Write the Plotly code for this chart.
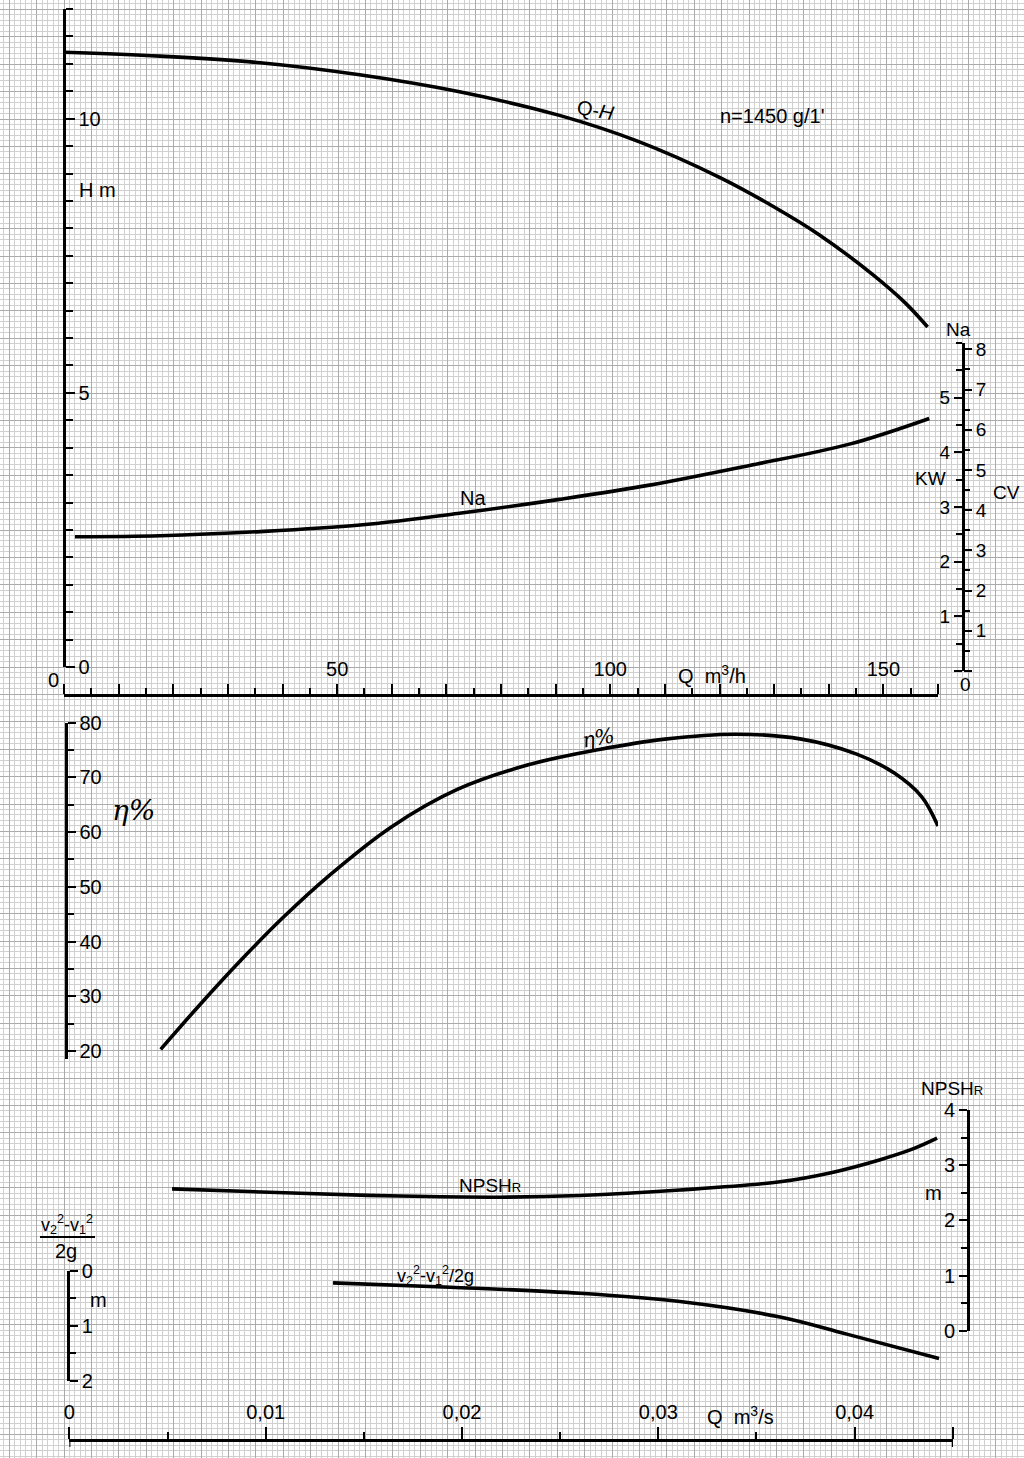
import plotly.graph_objects as go

W, H = 1024, 1458

# ---------------- data ----------------
q_qh = [0, 17.6, 35.9, 54.1, 72.4, 90.7, 105, 120, 130, 138.3, 148, 154, 158.1]          # m3/h
h_qh = [11.21, 11.14, 11.02, 10.80, 10.49, 10.06, 9.59, 8.93, 8.39, 7.88, 7.16, 6.64, 6.20]  # m

q_na = [2.0, 17.6, 35.9, 54.2, 72.4, 90.7, 107.2, 125.5, 143.8, 158.4]               # m3/h
na_kw = [2.457, 2.475, 2.55, 2.67, 2.885, 3.14, 3.40, 3.76, 4.15, 4.62]              # kW

q_eta = [17.7, 25, 32.2, 40, 48.7, 60, 72, 85, 98, 110, 123, 135, 145, 152, 157, 160]
eta = [20.3, 28.6, 36.4, 44.3, 52.2, 61.0, 67.8, 72.3, 75.1, 77.0, 77.9, 77.0, 74.3, 70.8, 66.5, 61.1]

q_npsh = [0.00523, 0.01175, 0.01684, 0.0219, 0.0260, 0.0311, 0.0362, 0.03874, 0.0413, 0.0430, 0.0442]  # m3/s
npsh = [2.57, 2.49, 2.44, 2.42, 2.45, 2.55, 2.70, 2.86, 3.10, 3.30, 3.49]

q_dv = [0.01343, 0.0194, 0.0260, 0.0311, 0.0362, 0.0396, 0.0443]
dv = [0.22, 0.30, 0.41, 0.56, 0.84, 1.15, 1.59]

KW_PER_CV = 0.7355
na_cv = [v / KW_PER_CV for v in na_kw]

qh_ticks = list(range(0, 161, 10))
qh_labels = ["50", "100", "150"]
qs_ticks = [0, 0.01, 0.02, 0.03, 0.04, 0.045]
qs_labels = ["0", "0,01", "0,02", "0,03", "0,04", ""]
h_ticks = [0, 5, 10]
eta_ticks = [20, 30, 40, 50, 60, 70, 80]
kw_ticks = [0, 1, 2, 3, 4, 5]
cv_ticks = [0, 1, 2, 3, 4, 5, 6, 7, 8]
npsh_ticks = [0, 1, 2, 3, 4]
dv_ticks = [0, 1, 2]


def px(x):
    return x / W


def py(y):
    return 1 - y / H


FONT = "Liberation Sans"
tickfont = dict(family=FONT, size=20, color="black")
AX = dict(showgrid=False, zeroline=False, showline=True, linecolor="black", linewidth=2.5,
          tickcolor="black", tickwidth=2, tickfont=tickfont, fixedrange=True, automargin=False)

fig = go.Figure()

# graph paper subplot (drawn first, underneath)
fig.add_trace(go.Scatter(x=[None], y=[None], xaxis="x", yaxis="y", showlegend=False, hoverinfo="skip"))

line = dict(color="black", width=3.6, shape="spline", smoothing=1.0)
fig.add_trace(go.Scatter(x=q_qh, y=h_qh, xaxis="x2", yaxis="y2", mode="lines", line=line, showlegend=False))
fig.add_trace(go.Scatter(x=q_na, y=na_kw, xaxis="x2", yaxis="y3", mode="lines", line=line, showlegend=False))
fig.add_trace(go.Scatter(x=q_na, y=na_cv, xaxis="x2", yaxis="y4", mode="lines", line=dict(width=0),
                         opacity=0, showlegend=False, hoverinfo="skip"))
fig.add_trace(go.Scatter(x=q_eta, y=eta, xaxis="x2", yaxis="y5", mode="lines", line=line, showlegend=False))
fig.add_trace(go.Scatter(x=q_npsh, y=npsh, xaxis="x3", yaxis="y6", mode="lines", line=line, showlegend=False))
fig.add_trace(go.Scatter(x=q_dv, y=dv, xaxis="x3", yaxis="y7", mode="lines", line=line, showlegend=False))

G = 27.4  # grid step (0.5 m) in px
layout = dict(
    width=W, height=H, margin=dict(l=0, r=0, t=0, b=0, pad=0, autoexpand=False),
    paper_bgcolor="white", plot_bgcolor="rgba(0,0,0,0)", showlegend=False,
    xaxis=dict(domain=[0, 1], range=[0, W], showline=False, zeroline=False, showticklabels=False, ticks="",
               tick0=64, dtick=G, showgrid=True, gridcolor="#ababab", gridwidth=1, automargin=False,
               minor=dict(tick0=64, dtick=G / 5, showgrid=True, gridcolor="#d0d0d0", gridwidth=1),
               fixedrange=True),
    yaxis=dict(domain=[0, 1], range=[H, 0], showline=False, zeroline=False, showticklabels=False, ticks="",
               tick0=667, dtick=G, showgrid=True, gridcolor="#ababab", gridwidth=1, automargin=False,
               minor=dict(tick0=667, dtick=G / 5, showgrid=True, gridcolor="#d0d0d0", gridwidth=1),
               fixedrange=True),
    # Q m3/h axis
    xaxis2=dict(AX, domain=[px(64), px(938)], range=[0, 160], anchor="free", position=py(695), side="top",
                tickvals=qh_ticks, ticktext=[str(v) if str(v) in qh_labels else "" for v in qh_ticks],
                ticks="outside", ticklen=10,
                minor=dict(dtick=5, ticks="outside", ticklen=6, tickcolor="black", tickwidth=2)),
    # H
    yaxis2=dict(AX, domain=[py(667), py(9)], range=[0, 12], anchor="free", position=px(64), side="right",
                tickvals=h_ticks, ticks="outside", ticklen=9,
                minor=dict(dtick=0.5, ticks="outside", ticklen=7, tickcolor="black", tickwidth=2)),
    # KW
    yaxis3=dict(AX, domain=[py(671), py(343)], range=[0, 6.0], anchor="free", position=px(963), side="left",
                tickvals=kw_ticks, ticktext=["" if v == 0 else str(v) for v in kw_ticks],
                ticks="outside", ticklen=8, tickfont=dict(family=FONT, size=19, color="black"),
                minor=dict(dtick=0.5, ticks="outside", ticklen=6, tickcolor="black", tickwidth=2)),
    # CV
    yaxis4=dict(AX, domain=[py(671), py(343)], range=[0, 6.0 / KW_PER_CV], anchor="free", position=px(963),
                side="right", showline=False,
                tickvals=cv_ticks, ticktext=["" if v == 0 else str(v) for v in cv_ticks],
                ticks="outside", ticklen=8, tickfont=dict(family=FONT, size=19, color="black"),
                minor=dict(dtick=0.5, ticks="outside", ticklen=6, tickcolor="black", tickwidth=2)),
    # efficiency
    yaxis5=dict(AX, domain=[py(1059.2), py(722.7)], range=[18.5, 80], anchor="free", position=px(66), side="right",
                tickvals=eta_ticks, ticks="outside", ticklen=8,
                minor=dict(dtick=5, ticks="outside", ticklen=6, tickcolor="black", tickwidth=2)),
    # Q m3/s axis
    xaxis3=dict(AX, domain=[px(69.4), px(953)], range=[0, 0.04501], anchor="free", position=py(1440), side="top",
                tickvals=qs_ticks, ticktext=qs_labels, ticks="outside", ticklen=12,
                minor=dict(dtick=0.005, ticks="outside", ticklen=7, tickcolor="black", tickwidth=2)),
    # NPSH
    yaxis6=dict(AX, domain=[py(1330.7), py(1110)], range=[0, 4], anchor="free", position=px(968), side="left",
                tickvals=npsh_ticks, ticks="outside", ticklen=8,
                minor=dict(dtick=0.5, ticks="outside", ticklen=6, tickcolor="black", tickwidth=2)),
    # (v2^2 - v1^2)/2g
    yaxis7=dict(AX, domain=[py(1381), py(1270.7)], range=[2, 0], anchor="free", position=px(68.3), side="right",
                tickvals=dv_ticks, ticks="outside", ticklen=8,
                minor=dict(dtick=0.5, ticks="outside", ticklen=6, tickcolor="black", tickwidth=2)),
)
fig.update_layout(**layout)


def ann(text, x, y, size=20, angle=0, family=FONT, **kw):
    fig.add_annotation(text=text, x=px(x), y=py(y), xref="paper", yref="paper", showarrow=False,
                       xanchor="center", yanchor="middle", textangle=angle,
                       font=dict(family=family, size=size, color="black"), **kw)


ann("Q-<i>H</i>", 595, 110, size=20, angle=10)
ann("n=1450 g/1'", 772, 116, size=20)
ann("H m", 97, 190, size=20)
ann("Na", 473, 498, size=20)
ann("0", 53, 680, size=20)
ann("Q  m<sup>3</sup>/h", 712, 674, size=20)
ann("Na", 958, 330, size=19)
ann("KW", 930, 478, size=19)
ann("CV", 1006, 492, size=19)
ann("0", 965, 684, size=19)
ann("<i>η%</i>", 133, 810, size=28, family="DejaVu Serif")
ann("<i>η%</i>", 598, 738, size=21, angle=-10, family="DejaVu Serif")
ann("NPSH<span style='font-size:13px'>R</span>", 952, 1088, size=19)
ann("m", 933, 1193, size=20)
ann("NPSH<span style='font-size:13px'>R</span>", 490, 1185, size=19)
ann("v<sub>2</sub><sup>2</sup>-v<sub>1</sub><sup>2</sup>/2g", 435, 1275, size=18)
ann("v<sub>2</sub><sup>2</sup>-v<sub>1</sub><sup>2</sup>", 67, 1224, size=18)
ann("2g", 66, 1251, size=20)
ann("m", 98, 1300, size=20)
ann("Q  m<sup>3</sup>/s", 740, 1415, size=20)

fig.add_shape(type="line", xref="paper", yref="paper", x0=px(40), x1=px(95), y0=py(1237), y1=py(1237),
              line=dict(color="black", width=2))
# axis end caps of the m3/s axis (ticks crossing below the line)
for xv in (qs_ticks[0], qs_ticks[-1]):
    fig.add_shape(type="line", xref="x3", yref="paper", x0=xv, x1=xv, y0=py(1440), y1=py(1447),
                  line=dict(color="black", width=2))

fig.write_html("out.html", config={"displayModeBar": False, "staticPlot": True},
               post_script="document.body.style.margin='0px';document.body.style.overflow='hidden';")
